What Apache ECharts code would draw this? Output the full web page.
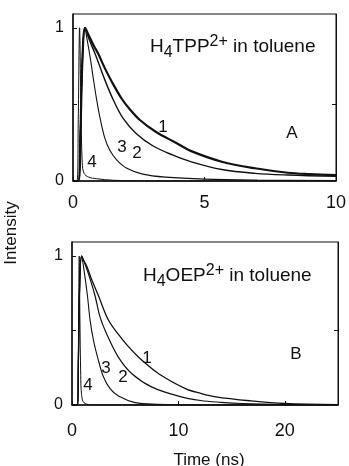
<!DOCTYPE html>
<html>
<head>
<meta charset="utf-8">
<script src="https://cdn.jsdelivr.net/npm/echarts@6/dist/echarts.min.js"></script>
<style>
html,body{margin:0;padding:0;background:#fff;}
#c{width:349px;height:466px;}
</style>
</head>
<body>
<div id="c"></div>
<script>
// Panel A: H4TPP2+ in toluene (time in ns, normalized intensity)
const a1 = [[0,0],[0.2,0],[0.28,0.3],[0.36,0.8],[0.46,1.0],[0.6,0.95],[0.8,0.88],[0.96,0.83],[1.2,0.74],[1.47,0.65],[1.84,0.54],[2.15,0.47],[2.53,0.40],[3.16,0.32],[3.91,0.25],[4.5,0.195],[5.66,0.126],[6.92,0.083],[8.17,0.054],[9.0,0.045],[10,0.038]];
const a2 = [[0,0],[0.2,0],[0.28,0.3],[0.36,0.8],[0.46,1.0],[0.6,0.93],[0.84,0.83],[1.21,0.66],[1.53,0.53],[1.9,0.41],[2.4,0.31],[3.03,0.23],[3.78,0.17],[4.5,0.125],[5.66,0.075],[6.92,0.05],[8.17,0.039],[10,0.03]];
const a3 = [[0,0],[0.2,0],[0.28,0.3],[0.36,0.8],[0.45,1.0],[0.55,0.91],[0.65,0.81],[0.78,0.66],[0.9,0.53],[1.03,0.41],[1.21,0.28],[1.4,0.20],[1.65,0.14],[2.03,0.085],[2.65,0.045],[3.53,0.025],[5,0.012],[7,0.006],[10,0.003]];
const a4 = [[0,0],[0.15,0],[0.2,0.4],[0.25,1.0],[0.3,0.5],[0.35,0.12],[0.42,0.05],[0.6,0.025],[0.9,0.015],[1.5,0.005],[3,0],[10,0]];
// Panel B: H4OEP2+ in toluene
const b1 = [[0,0],[0.5,0],[0.6,0.3],[0.72,0.8],[0.9,1.0],[1.1,0.97],[1.4,0.93],[1.8,0.85],[2.45,0.74],[3.42,0.57],[4.4,0.47],[5.2,0.40],[6.26,0.32],[6.9,0.28],[8.14,0.21],[10.66,0.11],[12.1,0.078],[13.5,0.055],[16.8,0.028],[20,0.01],[25,0.002]];
const b2 = [[0,0],[0.5,0],[0.6,0.3],[0.72,0.8],[0.9,1.0],[1.2,0.95],[1.5,0.89],[2.14,0.74],[2.64,0.59],[3.24,0.48],[4.37,0.32],[5.63,0.21],[7.52,0.12],[10,0.06],[12.1,0.03],[14,0.018],[16,0.01],[20,0.003],[25,0]];
const b3 = [[0,0],[0.5,0],[0.6,0.3],[0.72,0.8],[0.9,1.0],[1.1,0.92],[1.44,0.74],[1.7,0.57],[2.0,0.44],[2.48,0.30],[2.95,0.19],[3.58,0.11],[4.37,0.06],[5.94,0.016],[8,0.005],[12,0],[25,0]];
const b4 = [[0,0],[0.55,0],[0.62,0.6],[0.68,1.0],[0.74,0.6],[0.82,0.2],[0.9,0.07],[1.13,0.015],[2,0],[25,0]];
const xTicksA = [0,5,10];
const xTicksB = [0,10,20];
const yLabels = [0,1];
const yTicks = [0,0.5,1];

const FONT = '"Liberation Sans", Arial, Helvetica, sans-serif';
const INK = '#111';

const chart = echarts.init(document.getElementById('c'), null, {renderer:'canvas'});

function lineSeries(data, xi, w){
  return {type:'line', xAxisIndex:xi, yAxisIndex:xi*2, data:data, showSymbol:false, symbol:'none',
    smooth:0.35, lineStyle:{color:INK, width:w}, z:3, animation:false};
}
function xAx(grid, max, ticks, margin){
  return {type:'value', gridIndex:grid, min:0, max:max, interval: ticks[1]-ticks[0],
    axisLine:{show:true, onZero:false, lineStyle:{color:INK, width:1.5}},
    axisTick:{show:true, inside:true, length:4, lineStyle:{color:INK}},
    axisLabel:{show:true, color:INK, fontSize:18, fontFamily:FONT, margin:margin, customValues:ticks},
    splitLine:{show:false}};
}
function yAx(grid, max){
  return {type:'value', gridIndex:grid, min:0, max:max,
    axisLine:{show:true, onZero:false, lineStyle:{color:INK, width:1.5}},
    axisTick:{show:true, inside:true, length:4, lineStyle:{color:INK}, customValues:yTicks},
    axisLabel:{show:true, color:INK, fontSize:16, fontFamily:FONT, margin:9, customValues:yLabels},
    splitLine:{show:false}};
}
function yAxR(grid, max){
  return {type:'value', gridIndex:grid, min:0, max:max, position:'right',
    axisLine:{show:true, onZero:false, lineStyle:{color:INK, width:1}},
    axisTick:{show:true, inside:true, length:4, lineStyle:{color:INK}, customValues:[0.5]},
    axisLabel:{show:false}, splitLine:{show:false}};
}
function txt(x, y, s, size, extra){
  return Object.assign({type:'text', x:x, y:y, style:{text:s, fill:INK, font: size+'px '+FONT, textAlign:'center', textVerticalAlign:'middle'}, z:10}, extra||{});
}
const rich = {
  n:{fontSize:19, fontFamily:FONT, color:INK, lineHeight:27, verticalAlign:'middle'},
  sub:{fontSize:16, fontFamily:FONT, color:INK, lineHeight:27, verticalAlign:'bottom'},
  sup:{fontSize:16, fontFamily:FONT, color:INK, lineHeight:27, verticalAlign:'top'}
};
function title(x, y, s){
  return {type:'text', x:x, y:y, z:10, style:{text:s, rich:rich, fill:INK, font:'19px '+FONT, textAlign:'left', textVerticalAlign:'middle'}};
}

const option = {
  animation:false,
  backgroundColor:'#fff',
  grid:[
    {left:73, top:14, width:266, height:167, show:true, borderColor:INK, borderWidth:1, backgroundColor:'transparent'},
    {left:72, top:242, width:266, height:163, show:true, borderColor:INK, borderWidth:1, backgroundColor:'transparent'}
  ],
  xAxis:[ xAx(0, 10, xTicksA, 13), xAx(1, 25, xTicksB, 17) ],
  yAxis:[ yAx(0, 1.09), yAxR(0, 1.09), yAx(1, 1.094), yAxR(1, 1.094) ],
  series:[
    lineSeries(a1,0,2.2), lineSeries(a2,0,1.4), lineSeries(a3,0,1.1), lineSeries(a4,0,1),
    lineSeries(b1,1,1.3), lineSeries(b2,1,1.2), lineSeries(b3,1,1.1), lineSeries(b4,1,1)
  ],
  graphic:[
    title(150, 47, '{n|H}{sub|4}{n|TPP}{sup|2+}{n| in toluene}'),
    title(143, 276, '{n|H}{sub|4}{n|OEP}{sup|2+}{n| in toluene}'),
    txt(292, 133, 'A', 17), txt(296, 354, 'B', 17),
    txt(163, 127, '1', 17), txt(122, 147, '3', 17), txt(137, 153, '2', 17), txt(92, 162, '4', 17),
    txt(147, 358, '1', 17), txt(106, 368, '3', 17), txt(123, 377, '2', 17), txt(88, 385, '4', 17),
    txt(209, 460, 'Time (ns)', 17),
    {type:'text', x:11, y:233, rotation:Math.PI/2, z:10, style:{text:'Intensity', fill:INK, font:'17px '+FONT, textAlign:'center', textVerticalAlign:'middle'}}
  ]
};
chart.setOption(option);
</script>
</body>
</html>
